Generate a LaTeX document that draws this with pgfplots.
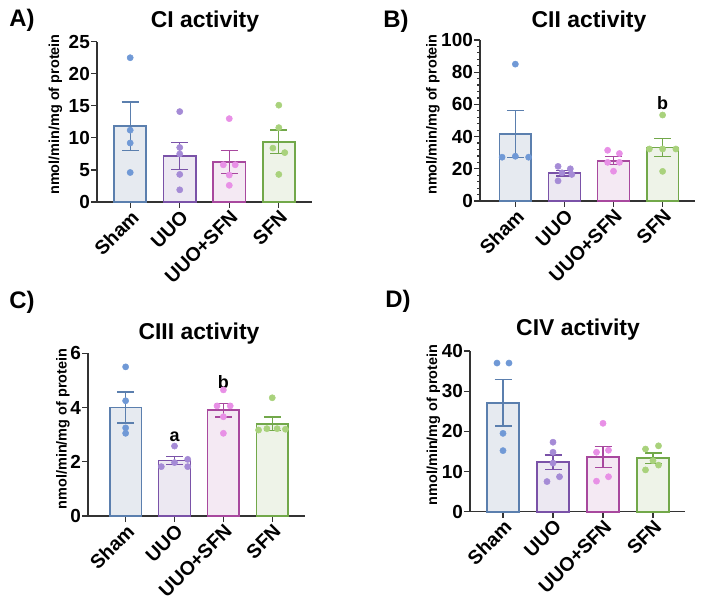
\documentclass[border=0pt]{standalone}
\usepackage{fontspec}
\setmainfont{Liberation Sans}
\usepackage{pgfplots}
\pgfplotsset{compat=1.18}
\definecolor{shamP}{HTML}{7099D6}
\definecolor{shamL}{HTML}{5B7FAE}
\definecolor{shamF}{HTML}{E6EAF0}
\definecolor{uuoP}{HTML}{A58BD6}
\definecolor{uuoL}{HTML}{7A52A8}
\definecolor{uuoF}{HTML}{ECE8F2}
\definecolor{usP}{HTML}{E890E6}
\definecolor{usL}{HTML}{A8489E}
\definecolor{usF}{HTML}{F4E9F3}
\definecolor{sfnP}{HTML}{A9D27C}
\definecolor{sfnL}{HTML}{72A84A}
\definecolor{sfnF}{HTML}{EEF3E8}
\pgfplotsset{
 panel/.style={scale only axis, axis lines=left,
   axis line style={-, line width=1.3pt, black!80},
   ymin=0, xtick={0,1,2,3}, xticklabels={Sham,UUO,UUO+SFN,SFN},
   tick align=outside, major tick length=6bp, minor tick length=3bp,
   every tick/.style={line width=1.2pt, black!80},
   ticklabel style={font=\fontsize{19}{20}\selectfont\bfseries},
   xticklabel style={rotate=45, anchor=north east, inner sep=0.5pt, font=\fontsize{19.5}{21}\selectfont\bfseries},
   yticklabel style={inner sep=1pt},
   /pgf/number format/assume math mode=true, clip=false},
 bar/.style={ybar, bar width=0.65, bar shift=0pt, draw=#1L, fill=#1F, line width=1.7pt,
   error bars/.cd, y dir=both, y explicit,
   error bar style={line width=1.3pt, #1L},
   error mark options={rotate=90, mark size=8.5bp, line width=1.3pt, #1L}},
 pts/.style={only marks, mark=*, color=#1P, mark size=3.1bp, line width=0.5pt,
   mark options={solid, draw=#1P, fill=#1P, line width=0.5pt, line join=round}},
}
\newcommand{\ttl}{\fontsize{23}{25}\selectfont\bfseries}
\newcommand{\ylab}{\fontsize{14.5}{16}\selectfont\bfseries}
\newcommand{\lett}{\fontsize{18}{20}\selectfont\bfseries}
\begin{document}
\begin{tikzpicture}
\useasboundingbox (0,0) rectangle (704bp,603bp);
% Panel labels and titles
\node[font=\fontsize{24}{26}\selectfont\bfseries] at (22bp,582.5bp) {A)};
\node[font=\fontsize{24}{26}\selectfont\bfseries] at (396bp,581.5bp) {B)};
\node[font=\fontsize{24}{26}\selectfont\bfseries] at (22bp,301bp) {C)};
\node[font=\fontsize{24}{26}\selectfont\bfseries] at (398bp,301.5bp) {D)};
\node[font=\ttl] at (205bp,581bp) {CI activity};
\node[font=\ttl] at (589bp,581bp) {CII activity};
\node[font=\ttl] at (199bp,269.5bp) {CIII activity};
\node[font=\ttl] at (578bp,273bp) {CIV activity};
\node[font=\ylab, rotate=90] at (55.5bp,488.5bp) {nmol/min/mg of protein};
\node[font=\ylab, rotate=90] at (433bp,488.5bp) {nmol/min/mg of protein};
\node[font=\ylab, rotate=90] at (63bp,174bp) {nmol/min/mg of protein};
\node[font=\ylab, rotate=90] at (433.5bp,178bp) {nmol/min/mg of protein};

% A
\begin{axis}[panel, at={(97bp,401bp)}, anchor=south west, width=215bp, height=160.3bp,
  xmin=-0.67, xmax=3.67, ymax=25, ytick={0,5,10,15,20,25}]
\addplot[bar=sham] coordinates {(0,11.8) +- (0,3.8)};
\addplot[bar=uuo] coordinates {(1,7.2) +- (0,2.1)};
\addplot[bar=us] coordinates {(2,6.2) +- (0,1.8)};
\addplot[bar=sfn] coordinates {(3,9.4) +- (0,1.85)};
\addplot[pts=sham] coordinates {(0,22.5)(0,11.2)(0,9.2)(0,4.6)};
\addplot[pts=uuo] coordinates {(1,14.1)(1,8.5)(1,7.5)(1,4.3)(1,1.9)};
\addplot[pts=us] coordinates {(2,13.0)(1.88,5.8)(2.12,5.8)(2,4.2)(2,2.6)};
\addplot[pts=sfn] coordinates {(3,15.1)(3,11.6)(2.88,8.4)(3.12,7.7)(3,4.3)};
\end{axis}

% B
\begin{axis}[panel, at={(480bp,402bp)}, anchor=south west, width=215bp, height=161bp,
  xmin=-0.72, xmax=3.66, ymax=100, ytick={0,20,40,60,80,100}, minor y tick num=4]
\addplot[bar=sham] coordinates {(0,41.5) +- (0,14.5)};
\addplot[bar=uuo] coordinates {(1,17.3) +- (0,1.8)};
\addplot[bar=us] coordinates {(2,25) +- (0,2.5)};
\addplot[bar=sfn] coordinates {(3,33.2) +- (0,5.5)};
\addplot[pts=sham] coordinates {(0,85)(-0.27,27.2)(0,27.8)(0.27,27.2)};
\addplot[pts=uuo] coordinates {(0.87,21.5)(1.12,20)(0.95,17.5)(1.15,16.5)(0.87,12.5)};
\addplot[pts=us] coordinates {(1.88,31.5)(2.12,29.5)(1.88,24)(2.12,24)(2,18.5)};
\addplot[pts=sfn] coordinates {(3,53.4)(2.73,32.3)(3,32.3)(3.27,32.3)(3,18.4)};
\node[font=\lett] at (axis cs:3,60.5) {b};
\end{axis}

% C
\begin{axis}[panel, at={(88bp,87bp)}, anchor=south west, width=217bp, height=162.7bp,
  xmin=-0.77, xmax=3.67, ymax=6, ytick={0,2,4,6}]
\addplot[bar=sham] coordinates {(0,4.0) +- (0,0.57)};
\addplot[bar=uuo] coordinates {(1,2.05) +- (0,0.15)};
\addplot[bar=us] coordinates {(2,3.9) +- (0,0.25)};
\addplot[bar=sfn] coordinates {(3,3.4) +- (0,0.25)};
\addplot[pts=sham] coordinates {(0,5.5)(0,4.25)(0,3.25)(0,3.05)};
\addplot[pts=uuo] coordinates {(1,2.58)(0.73,1.82)(1,1.97)(1.27,2.09)(1.27,1.82)};
\addplot[pts=us] coordinates {(2,4.65)(1.87,4.06)(2.14,4.06)(2,3.66)(2,3.05)};
\addplot[pts=sfn] coordinates {(3,4.36)(2.72,3.17)(2.89,3.22)(3.1,3.22)(3.27,3.2)};
\node[font=\lett] at (axis cs:1,2.93) {a};
\node[font=\lett] at (axis cs:2,4.95) {b};
\end{axis}

% D
\begin{axis}[panel, at={(470bp,91.3bp)}, anchor=south west, width=215bp, height=160.7bp,
  xmin=-0.66, xmax=3.64, ymax=40, ytick={0,10,20,30,40}]
\addplot[bar=sham] coordinates {(0,27.1) +- (0,5.8)};
\addplot[bar=uuo] coordinates {(1,12.3) +- (0,1.8)};
\addplot[bar=us] coordinates {(2,13.6) +- (0,2.6)};
\addplot[bar=sfn] coordinates {(3,13.3) +- (0,1.3)};
\addplot[pts=sham] coordinates {(-0.12,37)(0.12,37)(0,19.5)(0,15.2)};
\addplot[pts=uuo] coordinates {(1,17.3)(1,14.8)(1,12.1)(1.13,8.7)(0.88,7.5)};
\addplot[pts=us] coordinates {(2,22)(1.87,14.8)(2.11,15.3)(1.87,7.6)(2.11,8.7)};
\addplot[pts=sfn] coordinates {(3.11,16.4)(2.85,15.6)(3,12.7)(2.85,10.4)(3.11,11.6)};
\end{axis}
\end{tikzpicture}
\end{document}
